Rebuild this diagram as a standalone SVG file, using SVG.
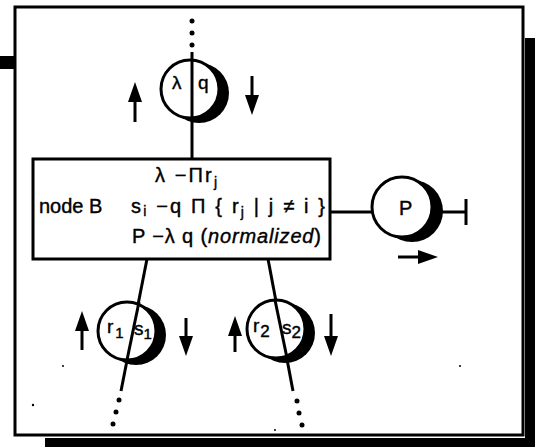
<svg xmlns="http://www.w3.org/2000/svg" width="535" height="447" viewBox="0 0 535 447">
<style>
.ln{stroke:#000;stroke-width:3;fill:none}
.c{fill:#fff;stroke:#000;stroke-width:3}
.sh{fill:#000}
.t{font-family:"Liberation Sans",Arial,sans-serif;font-size:20px;fill:#000;stroke:#000;stroke-width:0.4}
.nt{font-family:"Liberation Sans",Arial,sans-serif;font-size:19px;fill:#000;stroke:#000;stroke-width:0.4}
.dot{fill:#000}
</style>
<defs>
<marker id="ah" markerUnits="userSpaceOnUse" viewBox="0 0 20 14" markerWidth="20" markerHeight="14" refX="1" refY="7" orient="auto">
<path d="M0,0 L20,7 L0,14 z" fill="#000"/>
</marker>
</defs>
<g id="frame">
<rect x="0" y="56" width="16" height="13" fill="#000"/>
<rect x="525" y="38" width="10" height="409" fill="#000"/>
<rect x="45" y="438" width="490" height="9" fill="#000"/>
<rect x="15" y="7" width="508" height="428" fill="#fff" stroke="#000" stroke-width="3"/>
</g>
<g id="connectors">
<line class="ln" x1="192" y1="52" x2="192" y2="159"/>
<line class="ln" x1="147" y1="259" x2="121" y2="391"/>
<line class="ln" x1="268" y1="259" x2="293" y2="391"/>
<line class="ln" x1="330" y1="212" x2="380" y2="212"/>
<line class="ln" x1="420" y1="212" x2="466" y2="212"/>
<line class="ln" x1="466" y1="199" x2="466" y2="225"/>
<circle class="dot" cx="192" cy="21" r="2.5"/>
<circle class="dot" cx="192" cy="33" r="2.5"/>
<circle class="dot" cx="192" cy="45" r="2.5"/>
<circle class="dot" cx="119" cy="400" r="2.5"/>
<circle class="dot" cx="116" cy="412" r="2.5"/>
<circle class="dot" cx="113" cy="424" r="2.5"/>
<circle class="dot" cx="297" cy="401" r="2.5"/>
<circle class="dot" cx="299" cy="413" r="2.5"/>
<circle class="dot" cx="302" cy="425" r="2.5"/>
</g>
<g id="node-top">
<circle class="sh" cx="199" cy="93" r="30"/>
<circle class="c" cx="190" cy="89" r="29"/>
<line class="ln" x1="192" y1="60" x2="192" y2="118"/>
<text class="nt" x="172" y="89">λ</text>
<text class="nt" x="198" y="89">q</text>
<line class="ln" x1="135" y1="122" x2="135" y2="101" marker-end="url(#ah)"/>
<line class="ln" x1="252" y1="76" x2="252" y2="96" marker-end="url(#ah)"/>
</g>
<g id="node-B">
<rect x="33" y="159" width="297" height="100" fill="#fff" stroke="#000" stroke-width="3"/>
<text class="t" x="155" y="182" textLength="62" lengthAdjust="spacing">λ −Πr<tspan font-size="14" dy="5">j</tspan></text>
<text class="t" x="39" y="213">node B</text>
<text class="t" x="131" y="213" textLength="194" lengthAdjust="spacing">s<tspan font-size="14" dy="3">i</tspan><tspan dy="-3"> −q Π { r</tspan><tspan font-size="14" dy="4">j</tspan><tspan dy="-4"> | j ≠ i }</tspan></text>
<text class="t" x="132" y="243" textLength="189" lengthAdjust="spacing">P −λ q (<tspan font-style="italic">normalized</tspan>)</text>
</g>
<g id="node-P">
<circle class="sh" cx="412" cy="211" r="31"/>
<circle class="c" cx="402" cy="207" r="30"/>
<text class="t" x="399" y="215" font-size="21">P</text>
<line class="ln" x1="398" y1="257" x2="419" y2="257" marker-end="url(#ah)"/>
</g>
<g id="node-1">
<circle class="sh" cx="136" cy="335" r="30"/>
<circle class="c" cx="127" cy="331" r="29"/>
<line class="ln" x1="139" y1="302" x2="127" y2="360"/>
<text class="nt" x="107" y="333">r<tspan font-size="15" dx="2" dy="5">1</tspan></text>
<text class="nt" x="134" y="335" font-size="21">s<tspan font-size="15" dy="4">1</tspan></text>
<line class="ln" x1="82" y1="350" x2="82" y2="330" marker-end="url(#ah)"/>
<line class="ln" x1="186" y1="318" x2="186" y2="337" marker-end="url(#ah)"/>
</g>
<g id="node-2">
<circle class="sh" cx="285" cy="333" r="30"/>
<circle class="c" cx="276" cy="329" r="29"/>
<line class="ln" x1="275" y1="300" x2="287" y2="358"/>
<text class="nt" x="253" y="332">r<tspan font-size="17" dx="1" dy="5">2</tspan></text>
<text class="nt" x="282" y="334" font-size="21">s<tspan font-size="17" dy="4">2</tspan></text>
<line class="ln" x1="235" y1="352" x2="235" y2="335" marker-end="url(#ah)"/>
<line class="ln" x1="331" y1="314" x2="331" y2="337" marker-end="url(#ah)"/>
</g>
<g id="specks">
<circle class="dot" cx="63" cy="366" r="1"/>
<circle class="dot" cx="33" cy="405" r="1.2"/>
<circle class="dot" cx="275" cy="430" r="1"/>
<circle class="dot" cx="460" cy="366" r="1"/>
</g>
</svg>
